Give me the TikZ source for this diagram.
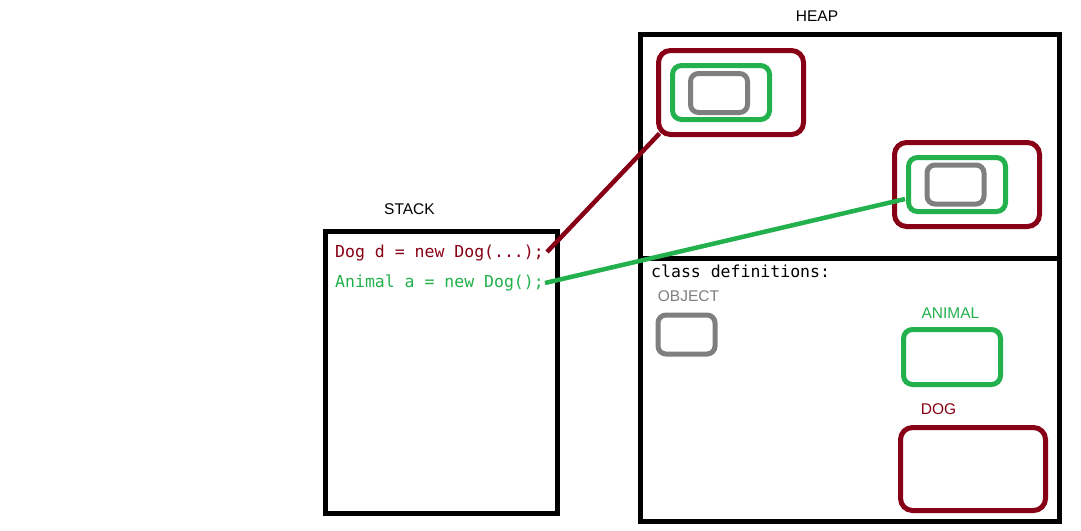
\documentclass[tikz,border=0pt]{standalone}
\usepackage{fontspec}
\setmainfont{Liberation Sans}
\setmonofont{DejaVu Sans Mono}
\definecolor{maroon}{HTML}{880015}
\definecolor{pgreen}{HTML}{22B14C}
\definecolor{pgray}{HTML}{7F7F7F}
\begin{document}
\begin{tikzpicture}[x=1pt,y=-1pt,
  frame/.style={draw=black,line width=5pt,inner sep=0pt},
  lbl/.style={font=\fontsize{15.5}{17}\selectfont,inner sep=0pt},
  code/.style={font=\ttfamily\fontsize{16.5}{18}\selectfont,inner sep=0pt,anchor=base west},
  mbox/.style={draw=maroon,line width=5pt,rounded corners=12pt,minimum width=145pt,minimum height=84pt,inner sep=0pt},
  gbox/.style={draw=pgreen,line width=5pt,rounded corners=9pt,minimum width=97pt,minimum height=54pt,inner sep=0pt},
  ybox/.style={draw=pgray,line width=5pt,rounded corners=8pt,minimum width=57pt,minimum height=39pt,inner sep=0pt},
  conn/.style={line width=4.5pt}]
\useasboundingbox (0,0) rectangle (1081,530);
\fill[white] (0,0) rectangle (1081,530);

% stack
\node[frame,minimum width=232pt,minimum height=282.5pt] (stack) at (441.5,372.25) {};
\node[lbl] (stacklbl) at (409.5,209) {STACK};
\node[code,text=maroon] (dtxt) at (335,257) {Dog d = new Dog(...);};
\node[code,text=pgreen] (atxt) at (335,287) {Animal a = new Dog();};

% heap
\node[frame,minimum width=418.5pt,minimum height=486.5pt] (heap) at (849.75,277.75) {};
\draw[line width=5pt] (heap.west |- 0,258) -- (1061,258);
\node[lbl] (heaplbl) at (817,16) {HEAP};

% objects in heap
\node[mbox] (m1) at (731,92.5) {};
\node[gbox] (g1) at (721,92.5) {};
\node[ybox] (y1) at (719,93) {};
\node[mbox] (m2) at (967,184.5) {};
\node[gbox] (g2) at (957,184.5) {};
\node[ybox] (y2) at (955.5,184.5) {};

% class definitions
\node[code,text=black] (cdef) at (651,277) {class definitions:};
\node[lbl,text=pgray] (objlbl) at (688.5,296) {OBJECT};
\node[ybox] (cobj) at (686.5,334.5) {};
\node[lbl,text=pgreen] (anilbl) at (950.5,313) {ANIMAL};
\node[gbox,minimum height=55pt] (cani) at (952,357) {};
\node[lbl,text=maroon] (doglbl) at (938.5,409) {DOG};
\node[mbox,minimum height=83pt] (cdog) at (973,469) {};

% connectors
\draw[conn,draw=maroon] ([xshift=3pt,yshift=5pt]dtxt.base east) -- ([xshift=3.5pt,yshift=3.5pt]m1.south west);
\draw[conn,draw=pgreen] ([xshift=1pt,yshift=4pt]atxt.base east) -- ([xshift=-1pt,yshift=-14.5pt]g2.west);
\end{tikzpicture}
\end{document}
